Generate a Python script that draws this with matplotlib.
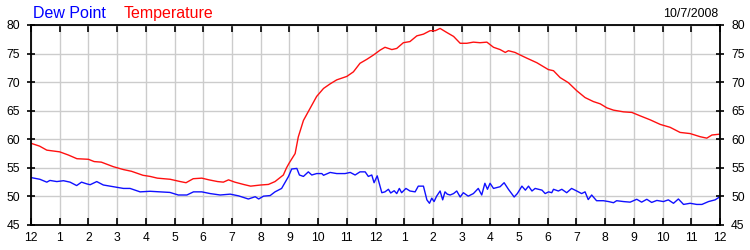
import numpy as np
import matplotlib
matplotlib.use("Agg")
import matplotlib.pyplot as plt

# ===============================
# data (hours since midnight, deg F)
# ===============================
temp_hours = [0.0, 0.3, 0.55, 1.0, 1.3, 1.6, 2.0, 2.2, 2.45, 2.87, 3.22, 3.5, 3.9,
               4.15, 4.4, 4.85, 5.2, 5.4, 5.65, 5.95, 6.2, 6.5, 6.7, 6.88, 7.1, 7.4,
               7.65, 8.0, 8.27, 8.5, 8.79, 8.9, 9.0, 9.2, 9.31, 9.49, 9.72, 9.95,
               10.19, 10.42, 10.65, 11.0, 11.23, 11.46, 11.7, 11.93, 12.16, 12.33,
               12.57, 12.74, 12.97, 13.2, 13.44, 13.67, 13.9, 14.08, 14.25, 14.48,
               14.72, 14.95, 15.18, 15.41, 15.64, 15.88, 16.11, 16.34, 16.52, 16.63,
               16.86, 17.04, 17.27, 17.62, 18.02, 18.2, 18.43, 18.72, 19.01, 19.3,
               19.59, 19.83, 20.06, 20.29, 20.64, 20.93, 21.22, 21.57, 21.92, 22.26,
               22.61, 22.96, 23.31, 23.54, 23.72, 24.0]
temp_vals = [59.3, 58.8, 58.1, 57.8, 57.25, 56.6, 56.5, 56.1, 56.0, 55.2, 54.7, 54.4, 53.7,
             53.5, 53.2, 53.0, 52.6, 52.4, 53.1, 53.2, 52.9, 52.6, 52.5, 52.9, 52.5, 52.1,
             51.8, 52.0, 52.1, 52.6, 53.75, 55.0, 55.9, 57.5, 60.4, 63.3, 65.4, 67.5,
             68.9, 69.7, 70.4, 71.0, 71.8, 73.3, 74.0, 74.75, 75.6, 76.1,
             75.7, 75.9, 76.9, 77.1, 78.1, 78.4, 79.0, 79.0, 79.4, 78.7,
             78.0, 76.8, 76.8, 77.0, 76.9, 77.0, 76.1, 75.7, 75.2, 75.5,
             75.2, 74.75, 74.2, 73.4, 72.2, 72.0, 70.8, 69.9, 68.5, 67.3,
             66.6, 66.2, 65.5, 65.1, 64.8, 64.7, 64.1, 63.4, 62.6, 62.1,
             61.2, 61.0, 60.45, 60.2, 60.75, 60.9]

dew_hours = [0.0, 0.31, 0.55, 0.66, 0.9, 1.13, 1.36, 1.59, 1.76, 1.94, 2.06, 2.29, 2.52,
             2.75, 2.99, 3.22, 3.45, 3.8, 4.15, 4.5, 4.84, 5.13, 5.43, 5.66, 5.95, 6.24,
             6.59, 6.94, 7.23, 7.57, 7.81, 7.93, 8.1, 8.33, 8.5, 8.73, 8.97, 9.08, 9.26,
             9.35, 9.49, 9.66, 9.78, 9.95, 10.13, 10.19, 10.42, 10.65, 10.94, 11.12,
             11.29, 11.46, 11.64, 11.75, 11.87, 11.95, 12.06, 12.22, 12.33, 12.45,
             12.53, 12.65, 12.74, 12.83, 12.91, 13.06, 13.2, 13.38, 13.49, 13.67,
             13.79, 13.88, 13.96, 14.04, 14.13, 14.25, 14.34, 14.42, 14.5, 14.6,
             14.72, 14.83, 14.95, 15.06, 15.23, 15.41, 15.58, 15.7, 15.81, 15.9,
             15.99, 16.11, 16.34, 16.48, 16.63, 16.83, 16.94, 17.1, 17.22, 17.33,
             17.45, 17.56, 17.8, 17.91, 18.03, 18.14, 18.2, 18.37, 18.49, 18.66,
             18.83, 19.01, 19.18, 19.3, 19.41, 19.53, 19.7, 19.94, 20.12, 20.29,
             20.4, 20.64, 20.87, 21.1, 21.27, 21.45, 21.62, 21.8, 22.03, 22.2,
             22.38, 22.55, 22.73, 22.96, 23.19, 23.37, 23.6, 23.83, 24.0]
dew_vals = [53.3, 53.0, 52.5, 52.8, 52.6, 52.75, 52.5, 51.9, 52.5, 52.2, 52.05, 52.6, 52.0,
            51.8, 51.6, 51.4, 51.4, 50.8, 50.9, 50.8, 50.7, 50.25, 50.25, 50.8, 50.8, 50.5,
            50.25, 50.4, 50.1, 49.55, 49.95, 49.55, 50.05, 50.15, 50.8, 51.4, 53.5, 54.8, 54.9,
            53.75, 53.5, 54.3, 53.75, 54.0, 54.0, 53.7, 54.2, 54.0, 54.0, 54.2,
            53.75, 54.3, 54.3, 53.5, 53.75, 52.4, 53.6, 50.65, 50.8, 51.25,
            50.6, 51.0, 50.5, 51.4, 50.65, 51.4, 50.95, 50.8, 51.8, 51.8,
            49.4, 48.8, 49.7, 49.1, 50.05, 50.95, 49.4, 50.8, 50.4, 50.25,
            50.5, 50.95, 49.9, 50.65, 50.05, 50.5, 51.4, 50.25, 52.3, 51.25,
            52.3, 51.4, 51.7, 52.4, 51.25, 49.9, 50.5, 51.8, 51.1, 51.8,
            50.95, 51.4, 51.1, 50.5, 50.8, 50.65, 51.25, 50.95, 51.25, 50.65,
            51.4, 50.95, 50.5, 50.8, 49.45, 50.25, 49.25, 49.25, 49.1, 48.9,
            49.25, 49.1, 49.0, 49.5, 49.0, 49.5, 48.95, 49.3, 49.1, 49.4,
            48.8, 49.55, 48.6, 48.8, 48.6, 48.6, 49.1, 49.4, 49.95]

x_ticks = list(range(25))
x_labels = ["12"] + [str(i) for i in range(1, 12)] + ["12"] + [str(i) for i in range(1, 12)] + ["12"]
y_ticks = [45, 50, 55, 60, 65, 70, 75, 80]
date_text = "10/7/2008"

# ===============================
# plot
# ===============================
plt.rcParams['font.family'] = ['Liberation Sans', 'DejaVu Sans']

fig = plt.figure(figsize=(7.5, 2.5), dpi=100)
ax = fig.add_axes([31 / 750, 0.1, 689 / 750, 0.8])

ax.plot(dew_hours, dew_vals, color="#1010ff", lw=1.0)
ax.plot(temp_hours, temp_vals, color="#ff1010", lw=1.0)

ax.set_xlim(0, 24)
ax.set_ylim(45, 80)
ax.set_xticks(x_ticks)
ax.set_xticklabels(x_labels)
ax.set_yticks(y_ticks)
ax.grid(True, color="#cccccc", lw=1.0)
ax.set_axisbelow(True)

for s in ax.spines.values():
    s.set_color("black")
    s.set_linewidth(1.3)

ax.tick_params(axis="x", which="both", direction="in", length=5, width=1.2,
               top=True, bottom=True, labelsize=8.7, pad=5)
ax.tick_params(axis="y", which="both", direction="inout", length=6, width=1.2,
               left=True, right=True, labelleft=True, labelright=True,
               labelsize=8.7, pad=5)

fig.text(33 / 750, 1 - 18 / 250, "Dew Point", color="#0000ff", fontsize=11.5,
         ha="left", va="baseline")
fig.text(124 / 750, 1 - 18 / 250, "Temperature", color="#ff0000", fontsize=11.5,
         ha="left", va="baseline")
fig.text(718 / 750, 1 - 17 / 250, date_text, color="black", fontsize=8.9,
         ha="right", va="baseline")

fig.savefig("out.png", dpi=100)
plt.close(fig)
